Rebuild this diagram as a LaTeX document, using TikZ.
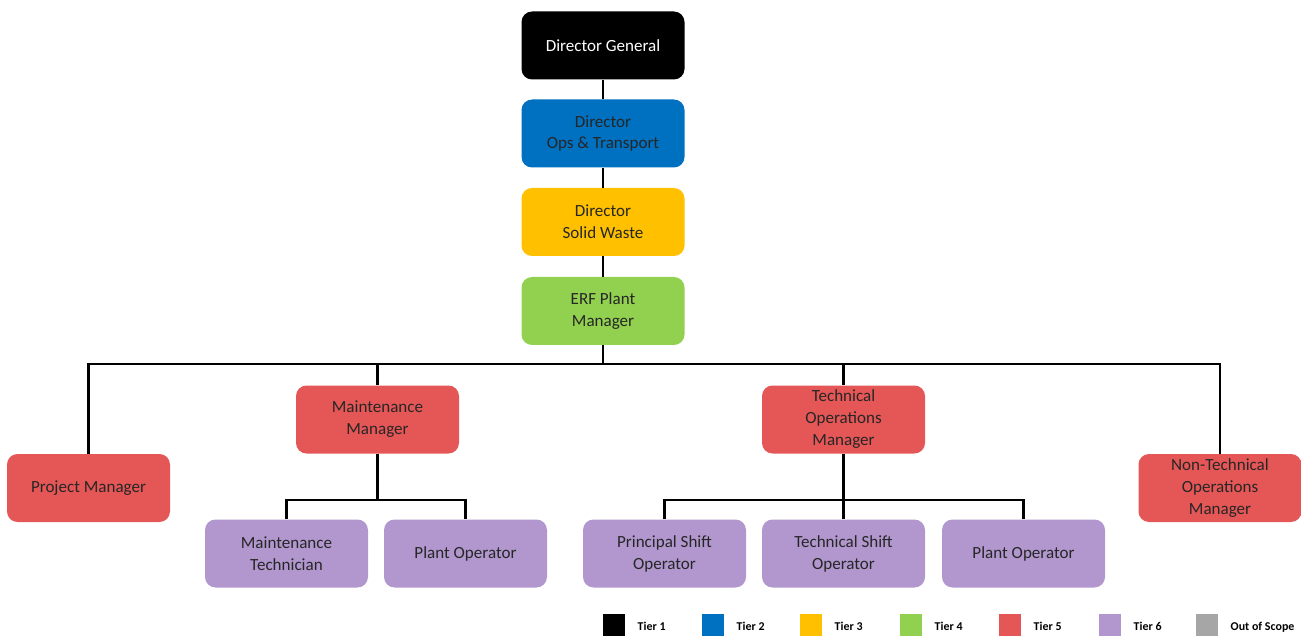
\documentclass[tikz,border=0pt]{standalone}
\usepackage{fontspec}
\setmainfont{Carlito}
\definecolor{tierone}{RGB}{0,0,0}
\definecolor{tiertwo}{RGB}{0,112,192}
\definecolor{tierthree}{RGB}{255,192,0}
\definecolor{tierfour}{RGB}{146,208,80}
\definecolor{tierfive}{RGB}{229,86,86}
\definecolor{tiersix}{RGB}{177,151,206}
\definecolor{tierout}{RGB}{166,166,166}
\usetikzlibrary{positioning,calc}

\begin{document}
\begin{tikzpicture}[
    role/.style={rectangle, rounded corners=6pt, minimum width=3.26cm, minimum height=1.36cm,
      inner sep=2pt, align=center, text=black!85, font=\fontsize{9.7}{12.5}\selectfont},
    link/.style={line width=1.2pt, black},
    key/.style={rectangle, minimum size=0.44cm, inner sep=0pt},
    keytxt/.style={font=\fontsize{6.8}{8}\selectfont\bfseries, inner sep=0pt,
      text height=1.2ex, text depth=0pt}
  ]
    \useasboundingbox (0,0) rectangle (26.02,-12.74);

    % Top chain
    \node[role, fill=tierone, text=white] (dg)  at (12.06,-0.91) {Director General};
    \node[role, fill=tiertwo]   (dot) at (12.06,-2.67) {Director\\Ops \& Transport};
    \node[role, fill=tierthree] (dsw) at (12.06,-4.44) {Director\\Solid Waste};
    \node[role, fill=tierfour]  (erf) at (12.06,-6.22) {ERF Plant\\Manager};

    \draw[link] (dg.south) -- (dot.north);
    \draw[link] (dot.south) -- (dsw.north);
    \draw[link] (dsw.south) -- (erf.north);

    % Tier 5 managers
    \node[role, fill=tierfive] (pm)   at (1.77,-9.76)  {Project Manager};
    \node[role, fill=tierfive] (mm)   at (7.55,-8.39)  {Maintenance\\Manager};
    \node[role, fill=tierfive] (tom)  at (16.87,-8.39) {Technical\\Operations\\Manager};
    \node[role, fill=tierfive] (ntom) at (24.40,-9.76) {Non-Technical\\Operations\\Manager};

    \coordinate (bus) at (12.06,-7.28);
    \draw[link] (erf.south) -- (bus);
    \draw[link] (pm.north) |- (bus) -| (ntom.north);
    \draw[link] (mm.north) -- (mm.north |- bus);
    \draw[link] (tom.north) -- (tom.north |- bus);

    % Tier 6 staff
    \node[role, fill=tiersix] (mt)  at (5.73,-11.07)  {Maintenance\\Technician};
    \node[role, fill=tiersix] (po1) at (9.31,-11.07)  {Plant Operator};
    \node[role, fill=tiersix] (pso) at (13.29,-11.07) {Principal Shift\\Operator};
    \node[role, fill=tiersix] (tso) at (16.87,-11.07) {Technical Shift\\Operator};
    \node[role, fill=tiersix] (po2) at (20.47,-11.07) {Plant Operator};

    \coordinate (mbus) at (7.55,-10.0);
    \draw[link] (mm.south) -- (mbus);
    \draw[link] (mt.north) |- (mbus) -| (po1.north);

    \coordinate (tbus) at (16.87,-10.0);
    \draw[link] (tom.south) -- (tso.north);
    \draw[link] (pso.north) |- (tbus) -| (po2.north);

    % Legend
    \node[key, fill=tierone]   (k1) at (12.28,-12.50) {};
    \node[key, fill=tiertwo]   (k2) at (14.26,-12.50) {};
    \node[key, fill=tierthree] (k3) at (16.22,-12.50) {};
    \node[key, fill=tierfour]  (k4) at (18.22,-12.50) {};
    \node[key, fill=tierfive]  (k5) at (20.20,-12.50) {};
    \node[key, fill=tiersix]   (k6) at (22.20,-12.50) {};
    \node[key, fill=tierout]   (k7) at (24.14,-12.50) {};
    \node[keytxt] (t1) [right=0.24cm of k1] {Tier 1};
    \node[keytxt] (t2) [right=0.24cm of k2] {Tier 2};
    \node[keytxt] (t3) [right=0.24cm of k3] {Tier 3};
    \node[keytxt] (t4) [right=0.24cm of k4] {Tier 4};
    \node[keytxt] (t5) [right=0.24cm of k5] {Tier 5};
    \node[keytxt] (t6) [right=0.24cm of k6] {Tier 6};
    \node[keytxt] (t7) [right=0.24cm of k7] {Out of Scope};
\end{tikzpicture}
\end{document}
